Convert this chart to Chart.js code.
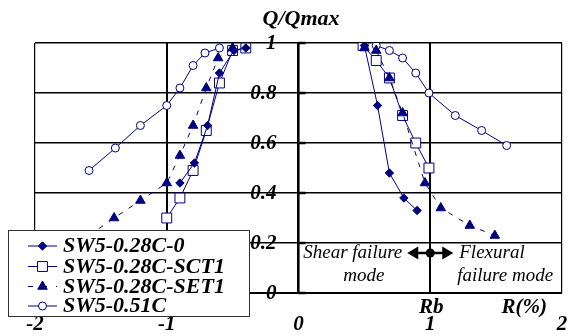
<!DOCTYPE html>
<html><head><meta charset="utf-8">
<script src="https://cdn.jsdelivr.net/npm/chart.js@4/dist/chart.umd.min.js"></script>
<style>html,body{margin:0;padding:0;background:#fff}canvas{display:block}</style>
</head><body>
<canvas id="c" width="570" height="336"></canvas>
<script>
// ---- data ----
const seriesNames = ['SW5-0.28C-0', 'SW5-0.28C-SCT1', 'SW5-0.28C-SET1', 'SW5-0.51C'];
const xTickLabels = ['-2', '-1', '0', '1', '2'];
const yTickLabels = ['0', '0.2', '0.4', '0.6', '0.8', '1'];

const s0NegR = [-0.90, -0.79, -0.69, -0.60, -0.49, -0.40];
const s0NegQ = [0.44, 0.52, 0.67, 0.88, 0.97, 0.98];
const s0PosR = [0.50, 0.60, 0.69, 0.80, 0.90];
const s0PosQ = [0.99, 0.75, 0.48, 0.38, 0.33];

const sctNegR = [-1.00, -0.90, -0.80, -0.70, -0.60, -0.50, -0.40];
const sctNegQ = [0.30, 0.38, 0.49, 0.65, 0.84, 0.97, 0.98];
const sctPosR = [0.49, 0.59, 0.69, 0.79, 0.89, 0.99];
const sctPosQ = [0.99, 0.93, 0.86, 0.71, 0.60, 0.50];

const setNegR = [-1.59, -1.40, -1.20, -1.00, -0.90, -0.80, -0.70, -0.61, -0.50];
const setNegQ = [0.23, 0.30, 0.37, 0.44, 0.55, 0.67, 0.82, 0.94, 0.98];
const setPosR = [0.50, 0.59, 0.69, 0.79, 0.96, 1.08, 1.30, 1.49];
const setPosQ = [0.98, 0.97, 0.86, 0.72, 0.44, 0.34, 0.27, 0.23];

const c51NegR = [-1.59, -1.39, -1.20, -1.00, -0.90, -0.80, -0.71, -0.60];
const c51NegQ = [0.49, 0.58, 0.67, 0.75, 0.82, 0.91, 0.96, 0.98];
const c51PosR = [0.59, 0.69, 0.79, 0.89, 0.99, 1.19, 1.39, 1.58];
const c51PosQ = [0.99, 0.97, 0.94, 0.88, 0.80, 0.71, 0.65, 0.59];

const rbValue = 1;        // Rb position on R axis
const modeArrowQ = 0.16;  // height of the failure-mode arrow

// ---- styling ----
const NAVY = '#000080';
const SERIF = "'Liberation Serif', 'Times New Roman', serif";
const styles = [
  {pointStyle: 'rectRot', radius: 4.2, fill: NAVY, dash: [], order: 1},
  {pointStyle: 'rect', radius: 7, fill: '#ffffff', dash: [], order: 3},
  {pointStyle: 'triangle', radius: 5.5, fill: NAVY, dash: [5, 7], order: 2},
  {pointStyle: 'circle', radius: 4, fill: '#ffffff', dash: [], order: 4}
];
const branches = [
  [[s0NegR, s0NegQ], [s0PosR, s0PosQ]],
  [[sctNegR, sctNegQ], [sctPosR, sctPosQ]],
  [[setNegR, setNegQ], [setPosR, setPosQ]],
  [[c51NegR, c51NegQ], [c51PosR, c51PosQ]]
];
const zip = (xs, ys) => xs.map((x, i) => ({x: x, y: ys[i]}));
const datasets = [];
branches.forEach((br, si) => {
  const st = styles[si];
  br.forEach(([xs, ys]) => {
    datasets.push({
      label: seriesNames[si],
      data: zip(xs, ys),
      showLine: true,
      borderColor: NAVY,
      borderWidth: 1,
      borderDash: st.dash,
      pointStyle: st.pointStyle,
      pointRadius: st.radius,
      pointHoverRadius: st.radius,
      pointBackgroundColor: st.fill,
      pointBorderColor: NAVY,
      pointBorderWidth: 1,
      order: st.order,
      tension: 0
    });
  });
});

function marker(ctx, style, r, x, y, fill) {
  ctx.save();
  ctx.setLineDash([]);
  ctx.beginPath();
  if (style === 'rectRot') {
    ctx.moveTo(x - r, y); ctx.lineTo(x, y - r); ctx.lineTo(x + r, y); ctx.lineTo(x, y + r); ctx.closePath();
  } else if (style === 'rect') {
    const s = Math.SQRT1_2 * r; ctx.rect(x - s, y - s, 2 * s, 2 * s);
  } else if (style === 'triangle') {
    for (let k = 0; k < 3; k++) {
      const a = k * 2 * Math.PI / 3;
      const px = x + Math.sin(a) * r, py = y - Math.cos(a) * r;
      if (k === 0) ctx.moveTo(px, py); else ctx.lineTo(px, py);
    }
    ctx.closePath();
  } else {
    ctx.arc(x, y, r, 0, Math.PI * 2);
  }
  ctx.fillStyle = fill; ctx.fill();
  ctx.strokeStyle = NAVY; ctx.lineWidth = 1; ctx.stroke();
  ctx.restore();
}

const deco = {
  id: 'deco',
  afterDatasetsDraw(chart) {
    const ctx = chart.ctx;
    const xs = chart.scales.x, ys = chart.scales.y;
    const x0 = xs.getPixelForValue(0);
    ctx.save();
    // tick marks and labels on the central axis
    ctx.strokeStyle = '#000'; ctx.lineWidth = 2.5;
    ctx.fillStyle = '#000';
    ctx.font = 'italic bold 21px ' + SERIF;
    ctx.textAlign = 'right'; ctx.textBaseline = 'middle';
    ys.ticks.forEach((t, i) => {
      const py = ys.getPixelForValue(t.value);
      ctx.beginPath(); ctx.moveTo(x0, py); ctx.lineTo(x0 + 7, py); ctx.stroke();
      ctx.fillText(yTickLabels[i], x0 - 22, py + 1);
    });
    // failure mode arrow
    const ax = xs.getPixelForValue(rbValue), ay = ys.getPixelForValue(modeArrowQ);
    ctx.fillStyle = '#000'; ctx.strokeStyle = '#000'; ctx.lineWidth = 2.5;
    ctx.beginPath(); ctx.moveTo(ax - 14, ay); ctx.lineTo(ax + 14, ay); ctx.stroke();
    ctx.beginPath(); ctx.moveTo(ax - 23, ay); ctx.lineTo(ax - 12, ay - 6.5); ctx.lineTo(ax - 12, ay + 6.5); ctx.closePath(); ctx.fill();
    ctx.beginPath(); ctx.moveTo(ax + 23, ay); ctx.lineTo(ax + 12, ay - 6.5); ctx.lineTo(ax + 12, ay + 6.5); ctx.closePath(); ctx.fill();
    ctx.beginPath(); ctx.arc(ax, ay, 4.5, 0, Math.PI * 2); ctx.fill();
    // failure mode texts
    ctx.font = 'italic 19px ' + SERIF;
    ctx.textBaseline = 'alphabetic';
    ctx.textAlign = 'left';
    ctx.fillText('Shear failure', ax - 127, ay + 5);
    ctx.fillText('mode', ax - 87, ay + 27.5);
    ctx.fillText('Flexural', ax + 29, ay + 5);
    ctx.fillText('failure mode', ax + 27, ay + 27.5);
    // axis titles
    ctx.font = 'italic bold 21px ' + SERIF;
    ctx.textAlign = 'center';
    const bottom = chart.chartArea.bottom;
    ctx.fillText('Rb', ax + 1, bottom + 20);
    ctx.textAlign = 'left';
    ctx.fillText('R(%)', xs.getPixelForValue(1.54), bottom + 20);
    ctx.font = 'italic bold 22px ' + SERIF;
    ctx.fillText('Q/Qmax', x0 - 36, chart.chartArea.top - 18);
    ctx.restore();
  },
  afterDraw(chart) {
    const ctx = chart.ctx;
    ctx.save();
    ctx.fillStyle = '#fff';
    ctx.fillRect(8, 230, 242, 87);
    ctx.strokeStyle = '#333'; ctx.lineWidth = 1;
    ctx.strokeRect(8.5, 230.5, 241, 86);
    const base = [252, 272.5, 292.5, 312];
    ctx.font = 'italic bold 22px ' + SERIF;
    ctx.textAlign = 'left'; ctx.textBaseline = 'alphabetic';
    seriesNames.forEach((name, i) => {
      const st = styles[i];
      const my = base[i] - 6;
      ctx.strokeStyle = NAVY; ctx.lineWidth = 1;
      ctx.setLineDash(st.dash.length ? [5, 9] : []);
      ctx.beginPath(); ctx.moveTo(28, my); ctx.lineTo(57, my); ctx.stroke();
      ctx.setLineDash([]);
      marker(ctx, st.pointStyle, st.radius, 42.5, my, st.fill);
      ctx.fillStyle = '#000';
      ctx.fillText(name, 63, base[i]);
    });
    ctx.restore();
  }
};

const tickFont = {family: SERIF, size: 21, style: 'italic', weight: 'bold'};

new Chart(document.getElementById('c'), {
  type: 'scatter',
  data: {datasets: datasets},
  options: {
    responsive: false,
    animation: false,
    events: [],
    layout: {padding: {left: 35, right: 3, top: 43, bottom: 0}},
    plugins: {legend: {display: false}, tooltip: {enabled: false}},
    scales: {
      x: {
        type: 'linear', min: -2, max: 2,
        ticks: {stepSize: 1, font: tickFont, color: '#000', padding: 19,
          callback: (v, i) => xTickLabels[i]},
        grid: {color: '#000', drawTicks: false,
          lineWidth: c => (c.tick && Math.abs(c.tick.value) === 1) ? 2 : 1.2},
        border: {display: true, color: '#000', width: 2},
        afterFit: s => { s.height = 43; s.paddingLeft = 0; s.paddingRight = 0; }
      },
      y: {
        type: 'linear', min: 0, max: 1,
        position: {x: 0},
        ticks: {stepSize: 0.2, display: false},
        grid: {color: '#000', drawTicks: false, lineWidth: 1.5},
        border: {display: true, color: '#000', width: 2.5},
        afterFit: s => { s.paddingTop = 0; s.paddingBottom = 0; }
      }
    }
  },
  plugins: [deco]
});
</script>
</body></html>
